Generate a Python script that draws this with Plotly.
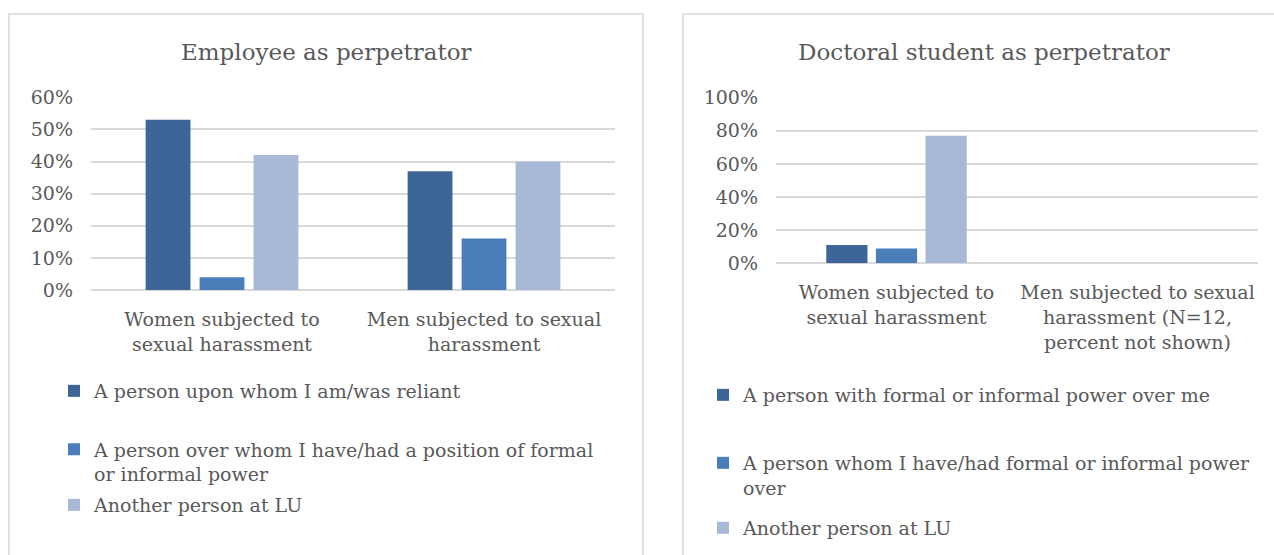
import plotly.graph_objects as go

W, H = 1274, 555

# ---- data ----
left_categories = ["Women subjected to<br>sexual harassment",
                   "Men subjected to sexual<br>harassment"]
right_categories = ["Women subjected to<br>sexual harassment",
                    "Men subjected to sexual<br>harassment (N=12,<br>percent not shown)"]

left_series_names = ["A person upon whom I am/was reliant",
                     "A person over whom I have/had a position of formal<br>or informal power",
                     "Another person at LU"]
left_reliant = [0.53, 0.37]
left_power_over_other = [0.04, 0.16]
left_another = [0.42, 0.40]

right_series_names = ["A person with formal or informal power over me",
                      "A person whom I have/had formal or informal power<br>over",
                      "Another person at LU"]
right_power_over_me = [0.11, None]
right_power_over_other = [0.09, None]
right_another = [0.77, None]

left_title = "Employee as perpetrator"
right_title = "Doctoral student as perpetrator"

colors = ["#3E6598", "#4A7EBB", "#A8B9D7"]
TEXT = "#595959"
GRID = "#D9D9D9"
FONT = "DejaVu Serif"


def px(x):
    return x / W


def py(y):
    return 1 - y / H


fig = go.Figure()

left_vals = [left_reliant, left_power_over_other, left_another]
right_vals = [right_power_over_me, right_power_over_other, right_another]

for i in range(3):
    fig.add_trace(go.Bar(x=left_categories, y=left_vals[i], name=left_series_names[i],
                         marker=dict(color=colors[i], line=dict(width=0)),
                         xaxis="x", yaxis="y", offsetgroup=str(i),
                         legend="legend" if i == 0 else f"legend{i+1}"))
for i in range(3):
    fig.add_trace(go.Bar(x=right_categories, y=right_vals[i], name=right_series_names[i],
                         marker=dict(color=colors[i], line=dict(width=0)),
                         xaxis="x2", yaxis="y2", offsetgroup=str(i),
                         legend=f"legend{i+4}"))

axis_font = dict(family=FONT, size=19, color=TEXT)

xcommon = dict(type="category", showgrid=False, showline=False, zeroline=False, ticks="",
               tickfont=axis_font, ticklabelstandoff=16, fixedrange=True, automargin=False)
ycommon = dict(showgrid=True, gridcolor=GRID, gridwidth=1.5, zeroline=True,
               zerolinecolor=GRID, zerolinewidth=1.5, showline=False, ticks="",
               tickformat=".0%", tickfont=axis_font, ticklabelstandoff=17, fixedrange=True,
               automargin=False)

legend_common = dict(font=dict(family=FONT, size=19, color=TEXT), bgcolor="rgba(0,0,0,0)",
                     borderwidth=0, xanchor="left", yanchor="middle", valign="top",
                     itemclick=False, itemdoubleclick=False)

fig.update_layout(
    width=W, height=H, autosize=False,
    margin=dict(l=0, r=0, t=0, b=0, pad=0, autoexpand=False),
    paper_bgcolor="white", plot_bgcolor="white",
    barmode="group", bargap=0.382, bargroupgap=0.17,
    xaxis=dict(domain=[px(91), px(615)], anchor="y", **xcommon),
    yaxis=dict(domain=[py(290), py(97.3)], range=[0, 0.6], dtick=0.1, anchor="x", **ycommon),
    xaxis2=dict(domain=[px(776), px(1258)], anchor="y2", **xcommon),
    yaxis2=dict(domain=[py(263.3), py(97.7)], range=[0, 1.0], dtick=0.2, anchor="x2", **ycommon),
    legend=dict(x=px(54), y=py(391), **legend_common),
    legend2=dict(x=px(54), y=py(462), **legend_common),
    legend3=dict(x=px(54), y=py(505), **legend_common),
    legend4=dict(x=px(703), y=py(395), **legend_common),
    legend5=dict(x=px(703), y=py(475.5), **legend_common),
    legend6=dict(x=px(703), y=py(528), **legend_common),
    showlegend=True,
    hovermode=False,
    shapes=[
        dict(type="rect", xref="paper", yref="paper", x0=px(9), x1=px(643), y0=py(557), y1=py(14),
             line=dict(color=GRID, width=1.5), fillcolor="rgba(0,0,0,0)", layer="below"),
        dict(type="rect", xref="paper", yref="paper", x0=px(683), x1=px(1276), y0=py(557), y1=py(14),
             line=dict(color=GRID, width=1.5), fillcolor="rgba(0,0,0,0)", layer="below"),
    ],
    annotations=[
        dict(text=left_title, x=px(326), y=py(52), xref="paper", yref="paper",
             xanchor="center", yanchor="middle", showarrow=False,
             font=dict(family=FONT, size=23, color=TEXT)),
        dict(text=right_title, x=px(984), y=py(52), xref="paper", yref="paper",
             xanchor="center", yanchor="middle", showarrow=False,
             font=dict(family=FONT, size=23, color=TEXT)),
    ],
)

fig.write_html(
    "out.html",
    config={"displayModeBar": False},
    post_script=(
        "var d=document.getElementById('{plot_id}');"
        "d.style.position='fixed';d.style.left='0px';d.style.top='0px';"
        "document.documentElement.style.margin='0';document.body.style.margin='0';"
        "document.body.style.padding='0';"
        "document.documentElement.style.overflow='hidden';document.body.style.overflow='hidden';"
    ),
)
